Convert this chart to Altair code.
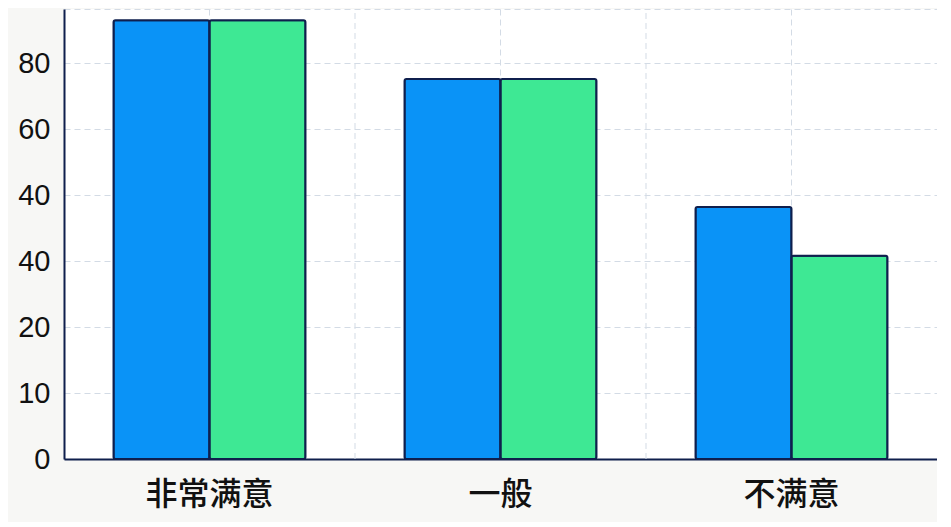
import altair as alt
import pandas as pd

categories = ["非常满意", "一般", "不满意"]
series = ["系列1", "系列2"]
series1_values = [66.5, 57.6, 38.2]
series2_values = [66.5, 57.6, 30.8]
tick_values = [0, 10, 20, 30, 40, 50, 60]
tick_labels = ["0", "10", "20", "40", "40", "60", "80"]
y_max = 68.2

colors = ["#0a93f7", "#3ee894"]
navy = "#0f1f4d"
grid_color = "#d3dbe5"

rows = []
for cat, v1, v2 in zip(categories, series1_values, series2_values):
    rows.append({"category": cat, "series": series[0], "value": v1})
    rows.append({"category": cat, "series": series[1], "value": v2})
df = pd.DataFrame(rows)

label_expr = " : ".join(
    f"datum.value == {v} ? '{l}'" for v, l in zip(tick_values, tick_labels)
) + " : ''"

x_enc = alt.X(
    "category:N",
    sort=categories,
    scale=alt.Scale(paddingInner=0, paddingOuter=0),
    axis=alt.Axis(
        title=None,
        labelAngle=0,
        labelFont="Noto Sans CJK SC",
        labelFontSize=32,
        labelFontWeight=500,
        labelColor="#111111",
        labelPadding=20,
        ticks=False,
        domainColor=navy,
        domainWidth=2,
        grid=True,
        gridColor=grid_color,
        gridDash=[6, 4],
    ),
)

y_enc = alt.Y(
    "value:Q",
    scale=alt.Scale(domain=[0, y_max], nice=False),
    axis=alt.Axis(
        title=None,
        values=tick_values + [y_max],
        labelExpr=label_expr,
        labelFont="Liberation Sans",
        labelFontSize=29,
        labelColor="#111111",
        labelPadding=14,
        ticks=False,
        domainColor=navy,
        domainWidth=2,
        gridColor=grid_color,
        gridDash=[6, 4],
        gridWidth=1,
        minExtent=56,
        maxExtent=56,
    ),
)

bars = (
    alt.Chart(df)
    .mark_bar(stroke=navy, strokeWidth=2, cornerRadius=2)
    .encode(
        x=x_enc,
        xOffset=alt.XOffset(
            "series:N", sort=series, scale=alt.Scale(paddingInner=0, paddingOuter=0.516)
        ),
        y=y_enc,
        color=alt.Color("series:N", scale=alt.Scale(domain=series, range=colors), legend=None),
    )
)

# dashed lines on the band boundaries, between the groups
band_grid = (
    alt.Chart(df)
    .transform_filter(alt.datum.series == series[0])
    .transform_filter(alt.datum.category != categories[0])
    .mark_rule(color=grid_color, strokeDash=[6, 4], strokeWidth=1)
    .encode(
        x=alt.X("category:N", sort=categories, bandPosition=0),
        y=alt.datum(0),
        y2=alt.datum(y_max),
    )
)

chart = (
    alt.layer(bars, band_grid)
    .properties(
        width=873,
        height=450,
        padding={"left": 0, "top": 0, "right": 0, "bottom": 12},
        background="#f7f7f5",
    )
    .configure_view(stroke=None, fill="#ffffff")
)

chart.save("out.html", embed_options={"renderer": "svg", "actions": False})
